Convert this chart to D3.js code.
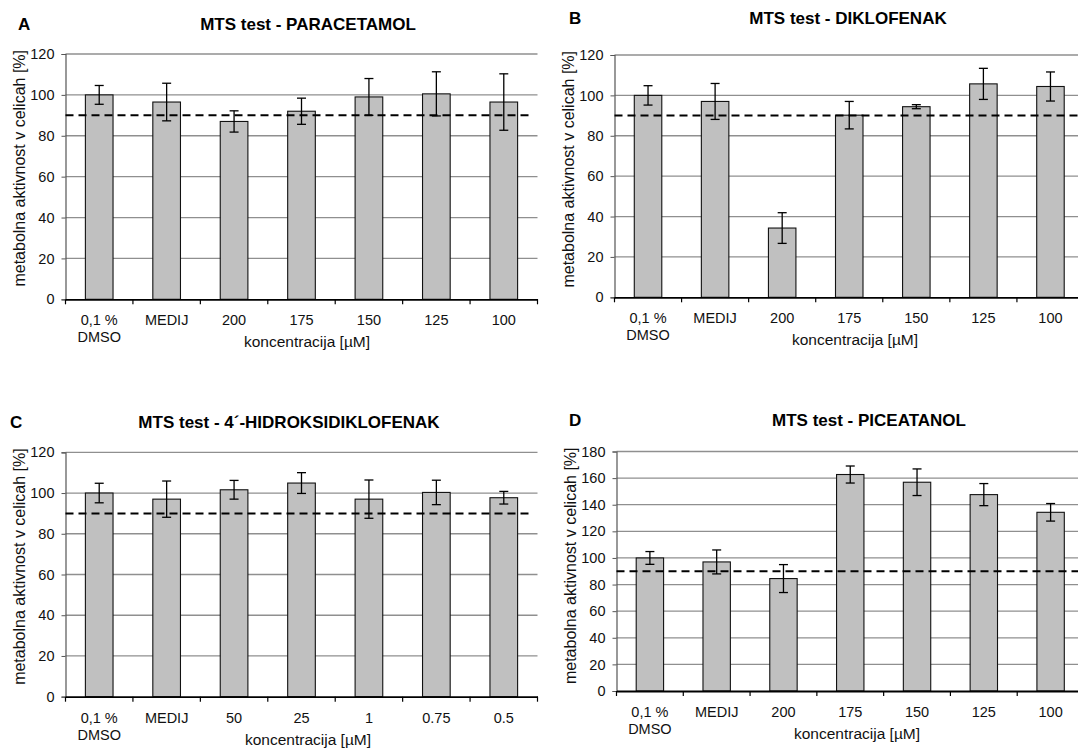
<!DOCTYPE html>
<html>
<head>
<meta charset="utf-8">
<script src="https://cdn.jsdelivr.net/npm/d3@7"></script>
<style>
  html, body { margin: 0; padding: 0; background: #fff; }
  svg { display: block; font-family: "Liberation Sans", Arial, Helvetica, sans-serif; }
</style>
</head>
<body>
<svg id="chart" width="1078" height="748"></svg>
<script>
// ---- data ----
const categoriesStd = ["0,1 %\nDMSO", "MEDIJ", "200", "175", "150", "125", "100"];
const categoriesC   = ["0,1 %\nDMSO", "MEDIJ", "50", "25", "1", "0.75", "0.5"];

const valuesA = [100, 96.5, 87, 92, 99, 100.5, 96.5];
const errorsA = [4.6, 9.2, 5.2, 6.4, 9, 10.8, 13.8];

const valuesB = [100, 97, 34.3, 90.2, 94.4, 105.7, 104.4];
const errorsB = [4.8, 8.9, 7.6, 6.8, 1.0, 7.7, 7.2];

const valuesC = [100, 97, 101.6, 104.9, 97, 100.3, 97.7];
const errorsC = [4.8, 8.9, 4.6, 5.1, 9.4, 6.0, 3.1];

const valuesD = [100, 97, 84.5, 162.7, 156.9, 147.6, 134.3];
const errorsD = [4.8, 9.0, 10.5, 6.4, 10.0, 8.3, 6.6];

const ticks120 = [0, 20, 40, 60, 80, 100, 120];
const ticks180 = [0, 20, 40, 60, 80, 100, 120, 140, 160, 180];

const thresholdValue = 90;

const titles = ["MTS test - PARACETAMOL", "MTS test - DIKLOFENAK",
                "MTS test - 4\u00B4-HIDROKSIDIKLOFENAK", "MTS test - PICEATANOL"];
const letters = ["A", "B", "C", "D"];
const yAxisLabel = "metabolna aktivnost v celicah [%]";
const xAxisLabel = "koncentracija [\u00B5M]";

// ---- layout (positions only) ----
const panels = [
  { cats: categoriesStd, vals: valuesA, errs: errorsA, ticks: ticks120, letter: letters[0], title: titles[0],
    x0: 65.5, x1: 537.5, yTop: 54, yBot: 299.3, titleX: 308, titleY: 30, letterX: 18, xLabX: 307 },
  { cats: categoriesStd, vals: valuesB, errs: errorsB, ticks: ticks120, letter: letters[1], title: titles[1],
    x0: 614.5, x1: 1084, yTop: 55, yBot: 297.3, titleX: 848, titleY: 24, letterX: 569, xLabX: 855 },
  { cats: categoriesC, vals: valuesC, errs: errorsC, ticks: ticks120, letter: letters[2], title: titles[2],
    x0: 65.5, x1: 537.5, yTop: 452.3, yBot: 696.7, titleX: 289, titleY: 428, letterX: 10, xLabX: 308 },
  { cats: categoriesStd, vals: valuesD, errs: errorsD, ticks: ticks180, letter: letters[3], title: titles[3],
    x0: 616.5, x1: 1084, yTop: 451.5, yBot: 691, titleX: 869, titleY: 426, letterX: 569, xLabX: 857 }
];

const svg = d3.select("#chart");

panels.forEach(p => {
  const g = svg.append("g");
  const yMax = p.ticks[p.ticks.length - 1];
  const x = d3.scaleBand().domain(p.cats).range([p.x0, p.x1]).paddingInner(0).paddingOuter(0);
  const y = d3.scaleLinear().domain([0, yMax]).range([p.yBot, p.yTop]);
  const barW = x.bandwidth() * 0.41;

  // gridlines
  g.append("g").selectAll("line").data(p.ticks.filter(t => t > 0)).join("line")
    .attr("x1", p.x0).attr("x2", p.x1)
    .attr("y1", d => y(d)).attr("y2", d => y(d))
    .attr("stroke", "#8f8f8f").attr("stroke-width", 1.3);

  // y axis
  const yAxis = d3.axisLeft(y).tickValues(p.ticks).tickSize(4).tickPadding(7);
  const ya = g.append("g").attr("transform", `translate(${p.x0},0)`).call(yAxis);
  ya.select(".domain").attr("stroke", "#555").attr("stroke-width", 1.2);
  ya.selectAll(".tick line").attr("stroke", "#555");
  ya.selectAll(".tick text").attr("font-size", 14.5).attr("fill", "#111")
    .attr("font-family", "'Liberation Sans', Arial, sans-serif");

  // bars
  g.append("g").selectAll("rect").data(p.vals).join("rect")
    .attr("x", (d, i) => x(p.cats[i]) + (x.bandwidth() - barW) / 2)
    .attr("y", d => y(d))
    .attr("width", barW)
    .attr("height", d => y(0) - y(d))
    .attr("fill", "#c0c0c0").attr("stroke", "#111").attr("stroke-width", 1.1);

  // x axis
  const xAxis = d3.axisBottom(x).tickSize(0).tickFormat(() => "");
  const xa = g.append("g").attr("transform", `translate(0,${p.yBot})`).call(xAxis);
  xa.select(".domain").attr("stroke", "#000").attr("stroke-width", 1.8);
  const bounds = p.cats.map(c => x(c)).concat([p.x1]);
  g.append("g").selectAll("line").data(bounds).join("line")
    .attr("x1", d => d).attr("x2", d => d)
    .attr("y1", p.yBot).attr("y2", p.yBot + 5)
    .attr("stroke", "#000").attr("stroke-width", 1.2);

  // category labels
  const lab = g.append("g").selectAll("text").data(p.cats).join("text")
    .attr("x", d => x(d) + x.bandwidth() / 2)
    .attr("y", p.yBot + 26)
    .attr("text-anchor", "middle").attr("font-size", 14.5).attr("fill", "#111");
  lab.each(function(d) {
    const lines = d.split("\n");
    const t = d3.select(this);
    lines.forEach((ln, k) => {
      t.append("tspan").attr("x", x(d) + x.bandwidth() / 2).attr("dy", k === 0 ? 0 : 17).text(ln);
    });
  });

  // threshold dashed line
  g.append("line")
    .attr("x1", p.x0).attr("x2", p.x1 - 4)
    .attr("y1", y(thresholdValue)).attr("y2", y(thresholdValue))
    .attr("stroke", "#000").attr("stroke-width", 2).attr("stroke-dasharray", "8,5");

  // error bars
  const eb = g.append("g").attr("stroke", "#000").attr("stroke-width", 1.3);
  p.vals.forEach((v, i) => {
    const cx = x(p.cats[i]) + x.bandwidth() / 2;
    const e = p.errs[i];
    eb.append("line").attr("x1", cx).attr("x2", cx).attr("y1", y(v + e)).attr("y2", y(v - e));
    eb.append("line").attr("x1", cx - 4.5).attr("x2", cx + 4.5).attr("y1", y(v + e)).attr("y2", y(v + e));
    eb.append("line").attr("x1", cx - 4.5).attr("x2", cx + 4.5).attr("y1", y(v - e)).attr("y2", y(v - e));
  });

  // axis titles
  g.append("text")
    .attr("transform", `translate(${p.x0 - 41},${p.yTop - 4}) rotate(-90)`)
    .attr("text-anchor", "end").attr("font-size", 16).attr("fill", "#111")
    .text(yAxisLabel);
  g.append("text")
    .attr("x", p.xLabX)
    .attr("y", p.yBot + 48)
    .attr("text-anchor", "middle").attr("font-size", 15.5).attr("fill", "#111")
    .text(xAxisLabel);

  // panel title and letter
  g.append("text").attr("x", p.titleX).attr("y", p.titleY)
    .attr("text-anchor", "middle").attr("font-size", 17).attr("font-weight", "bold").attr("fill", "#000")
    .text(p.title);
  g.append("text").attr("x", p.letterX).attr("y", p.titleY)
    .attr("font-size", 17).attr("font-weight", "bold").attr("fill", "#000")
    .text(p.letter);
});
</script>
</body>
</html>
